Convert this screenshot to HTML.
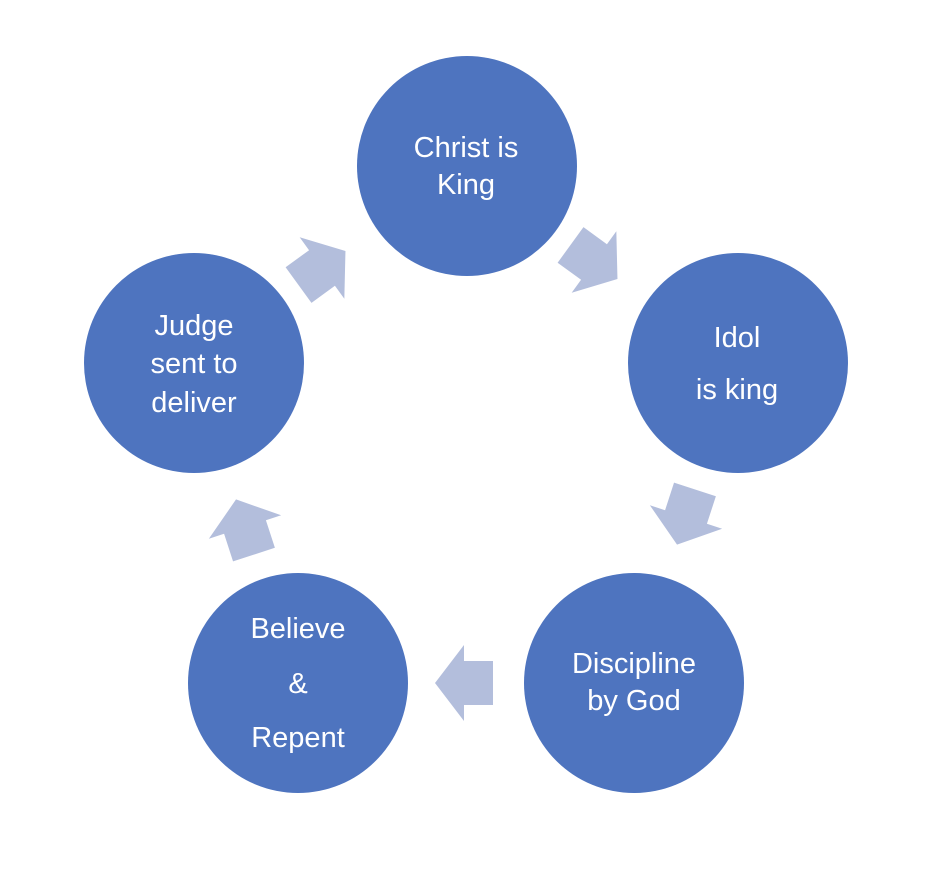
<!DOCTYPE html>
<html><head><style>body{margin:0;background:#fff}svg{display:block}</style></head>
<body>
<svg width="932" height="888" viewBox="0 0 932 888" xmlns="http://www.w3.org/2000/svg">
<defs>
<polygon id="a" points="-29,-22 0,-22 0,-38 29,0 0,38 0,22 -29,22" fill="#b3bedc"/>
</defs>
<use href="#a" transform="translate(322,268) rotate(-36)"/>
<use href="#a" transform="translate(594,262) rotate(36)"/>
<use href="#a" transform="translate(686,517) rotate(108)"/>
<use href="#a" transform="translate(464,683) rotate(180)"/>
<use href="#a" transform="translate(245,527) rotate(252)"/>
<g fill="#4e74bf">
<circle cx="467" cy="166" r="110"/>
<circle cx="738" cy="363" r="110"/>
<circle cx="634" cy="683" r="110"/>
<circle cx="298" cy="683" r="110"/>
<circle cx="194" cy="363" r="110"/>
</g>
<g fill="#fff" font-family="Liberation Sans, sans-serif" font-size="29" text-anchor="middle">
<text x="466" y="157">Christ is</text><text x="466" y="194">King</text>
<text x="737" y="347">Idol</text><text x="737" y="399">is king</text>
<text x="634" y="673">Discipline</text><text x="634" y="710">by God</text>
<text x="298" y="638">Believe</text><text x="298" y="693">&amp;</text><text x="298" y="747">Repent</text>
<text x="194" y="335">Judge</text><text x="194" y="373">sent to</text><text x="194" y="412">deliver</text>
</g>
</svg>
</body></html>
